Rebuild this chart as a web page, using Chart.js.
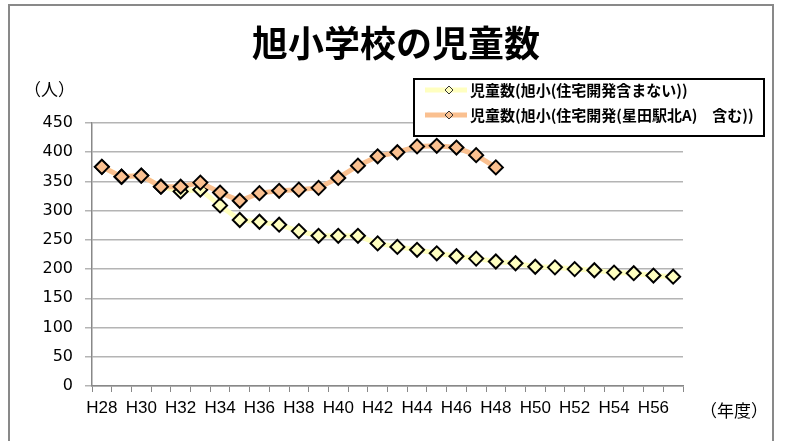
<!DOCTYPE html>
<html lang="ja">
  <head>
    <meta charset="UTF-8" />
    <title>旭小学校の児童数</title>
    <style>
      html, body { margin: 0; padding: 0; background: #fff; overflow: hidden; }
      #frame { position: absolute; left: 8px; top: 4px; width: 762px; height: 500px; border: 2px solid #898989; }
      #wrap { position: absolute; left: 0; top: 0; width: 785px; height: 441px; }
    </style>
  </head>
  <body>
    <div id="frame"></div>
    <div id="wrap"><canvas id="myChart" width="785" height="441"></canvas></div>

    <script src="https://cdn.jsdelivr.net/npm/chart.js"></script>
    <script>
      const years = ["H28", "H29", "H30", "H31", "H32", "H33", "H34", "H35", "H36", "H37",
                     "H38", "H39", "H40", "H41", "H42", "H43", "H44", "H45", "H46", "H47",
                     "H48", "H49", "H50", "H51", "H52", "H53", "H54", "H55", "H56", "H57"];
      // 住宅開発含まない
      const withoutDev = [375, 358, 360, 341, 333, 336, 309, 284, 281, 276,
                          265, 257, 257, 257, 244, 238, 233, 227, 222, 218,
                          213, 210, 204, 203, 200, 198, 194, 193, 189, 187];
      // 住宅開発(星田駅北A) 含む
      const withDev = [375, 358, 360, 341, 341, 348, 331, 317, 330, 334,
                       336, 339, 356, 377, 393, 400, 410, 411, 408, 395, 374];
      const yTicks = [0, 50, 100, 150, 200, 250, 300, 350, 400, 450];
      const seriesNames = ["児童数(旭小(住宅開発含まない))", "児童数(旭小(住宅開発(星田駅北A)　含む))"];
      const titleText = "旭小学校の児童数";

      const ctx = document.getElementById("myChart");
      const jp = '"Noto Sans CJK JP", "Noto Sans", sans-serif';

      const decor = {
        id: "decor",
        afterDatasetsDraw(chart) {
          const c = chart.ctx;
          c.save();
          c.fillStyle = "#000";
          c.textBaseline = "middle";

          c.font = "bold 36px " + jp;
          c.textAlign = "center";
          c.fillText(titleText, 396, 43);

          c.font = "17px " + jp;
          c.textAlign = "left";
          c.fillText("（人）", 24, 90);
          c.fillText("（年度）", 700, 411);

          // legend box
          c.fillStyle = "#fff";
          c.fillRect(414, 79, 350, 57);
          c.strokeStyle = "#000";
          c.lineWidth = 2;
          c.strokeRect(414, 79, 350, 57);

          chart.data.datasets.forEach(function (ds, i) {
            const y = 90 + i * 25;
            c.strokeStyle = ds.borderColor;
            c.lineWidth = 5;
            c.beginPath();
            c.moveTo(425, y);
            c.lineTo(467, y);
            c.stroke();
            c.fillStyle = ds.pointBackgroundColor;
            c.strokeStyle = "#333";
            c.lineWidth = 1;
            c.beginPath();
            c.moveTo(445, y);
            c.lineTo(449, y - 4);
            c.lineTo(453, y);
            c.lineTo(449, y + 4);
            c.closePath();
            c.fill();
            c.stroke();
            c.fillStyle = "#000";
            c.font = "bold 15px " + jp;
            c.fillText(ds.label, 470, y);
          });
          c.restore();
        }
      };

      const myChart = new Chart(ctx, {
        type: "line",
        data: {
          labels: years,
          datasets: [
            {
              label: seriesNames[0],
              data: withoutDev,
              borderColor: "#ffffc0",
              borderWidth: 5,
              pointStyle: "rectRot",
              pointRadius: 7,
              pointBackgroundColor: "#ffffc0",
              pointBorderColor: "#000",
              pointBorderWidth: 2,
              order: 2,
            },
            {
              label: seriesNames[1],
              data: withDev,
              borderColor: "#fac090",
              borderWidth: 5,
              pointStyle: "rectRot",
              pointRadius: 7,
              pointBackgroundColor: "#fac090",
              pointBorderColor: "#000",
              pointBorderWidth: 2,
              order: 1,
            },
          ],
        },
        options: {
          responsive: false,
          animation: false,
          layout: { padding: { left: 0, right: 102, top: 123, bottom: 0 } },
          plugins: {
            legend: { display: false },
            title: { display: false },
            tooltip: { enabled: false },
          },
          scales: {
            x: {
              offset: true,
              grid: { offset: true, drawOnChartArea: false, drawTicks: true, tickLength: 6, color: "#888" },
              border: { color: "#888", width: 1.5 },
              ticks: {
                autoSkip: false,
                maxRotation: 0,
                padding: 6,
                color: "#000",
                font: { family: '"Liberation Sans Narrow", "Liberation Sans", sans-serif', size: 17 },
                callback: function (val, idx) {
                  return idx % 2 === 0 ? this.getLabelForValue(val) : "";
                },
              },
              afterFit: function (scale) { scale.height = 55; },
            },
            y: {
              min: 0,
              max: 450,
              afterBuildTicks: function (scale) {
                scale.ticks = yTicks.map(function (v) { return { value: v }; });
              },
              grid: { color: "#b4b4b4", lineWidth: 1.5, tickLength: 7 },
              border: { color: "#888", width: 1.5 },
              ticks: {
                padding: 12,
                color: "#000",
                font: { family: '"DejaVu Sans", sans-serif', size: 16 },
              },
              afterFit: function (scale) { scale.width = 92; },
            },
          },
        },
        plugins: [decor],
      });
    </script>
  </body>
</html>
